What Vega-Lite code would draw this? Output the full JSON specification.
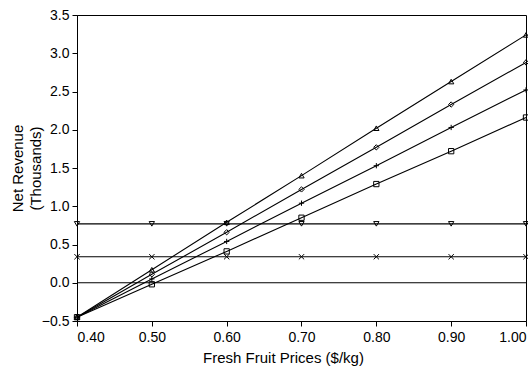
{
  "$schema": "https://vega.github.io/schema/vega-lite/v6.json",
  "width": 449,
  "height": 306,
  "autosize": {"type": "none"},
  "padding": {"left": 77, "top": 15, "right": 2, "bottom": 45},
  "background": "white",
  "config": {
    "view": {"stroke": "black", "strokeWidth": 1},
    "font": "Liberation Sans",
    "axis": {
      "grid": false,
      "domainColor": "black",
      "tickColor": "black",
      "labelColor": "black",
      "titleColor": "black",
      "labelFontSize": 14,
      "titleFontSize": 15,
      "titleFontWeight": "normal",
      "labelFont": "Liberation Sans",
      "titleFont": "Liberation Sans"
    }
  },
  "data": {
    "values": [
      {"series": "A", "price": 0.4, "rev": -0.45},
      {"series": "A", "price": 0.5, "rev": 0.17},
      {"series": "A", "price": 0.6, "rev": 0.79},
      {"series": "A", "price": 0.7, "rev": 1.40},
      {"series": "A", "price": 0.8, "rev": 2.02},
      {"series": "A", "price": 0.9, "rev": 2.63},
      {"series": "A", "price": 1.0, "rev": 3.24},
      {"series": "B", "price": 0.4, "rev": -0.45},
      {"series": "B", "price": 0.5, "rev": 0.11},
      {"series": "B", "price": 0.6, "rev": 0.66},
      {"series": "B", "price": 0.7, "rev": 1.22},
      {"series": "B", "price": 0.8, "rev": 1.77},
      {"series": "B", "price": 0.9, "rev": 2.33},
      {"series": "B", "price": 1.0, "rev": 2.88},
      {"series": "C", "price": 0.4, "rev": -0.45},
      {"series": "C", "price": 0.5, "rev": 0.05},
      {"series": "C", "price": 0.6, "rev": 0.54},
      {"series": "C", "price": 0.7, "rev": 1.04},
      {"series": "C", "price": 0.8, "rev": 1.53},
      {"series": "C", "price": 0.9, "rev": 2.03},
      {"series": "C", "price": 1.0, "rev": 2.52},
      {"series": "D", "price": 0.4, "rev": -0.45},
      {"series": "D", "price": 0.5, "rev": -0.02},
      {"series": "D", "price": 0.6, "rev": 0.41},
      {"series": "D", "price": 0.7, "rev": 0.85},
      {"series": "D", "price": 0.8, "rev": 1.29},
      {"series": "D", "price": 0.9, "rev": 1.72},
      {"series": "D", "price": 1.0, "rev": 2.16},
      {"series": "E", "price": 0.4, "rev": 0.77},
      {"series": "E", "price": 0.5, "rev": 0.77},
      {"series": "E", "price": 0.6, "rev": 0.77},
      {"series": "E", "price": 0.7, "rev": 0.77},
      {"series": "E", "price": 0.8, "rev": 0.77},
      {"series": "E", "price": 0.9, "rev": 0.77},
      {"series": "E", "price": 1.0, "rev": 0.77},
      {"series": "F", "price": 0.4, "rev": 0.34},
      {"series": "F", "price": 0.5, "rev": 0.34},
      {"series": "F", "price": 0.6, "rev": 0.34},
      {"series": "F", "price": 0.7, "rev": 0.34},
      {"series": "F", "price": 0.8, "rev": 0.34},
      {"series": "F", "price": 0.9, "rev": 0.34},
      {"series": "F", "price": 1.0, "rev": 0.34},
      {"series": "Z", "price": 0.4, "rev": 0.0},
      {"series": "Z", "price": 1.0, "rev": 0.0}
    ]
  },
  "encoding": {
    "x": {
      "field": "price",
      "type": "quantitative",
      "scale": {"domain": [0.4, 1.0], "nice": false},
      "axis": {
        "values": [0.4, 0.5, 0.6, 0.7, 0.8, 0.9, 1.0],
        "format": ".2f",
        "title": "Fresh Fruit Prices ($/kg)",
        "tickSize": 5,
        "labelPadding": 4,
        "titlePadding": 6,
        "titleX": 206
      }
    },
    "y": {
      "field": "rev",
      "type": "quantitative",
      "scale": {"domain": [-0.5, 3.5], "nice": false},
      "axis": {
        "values": [-0.5, 0, 0.5, 1.0, 1.5, 2.0, 2.5, 3.0, 3.5],
        "format": ".1f",
        "title": ["Net Revenue", "(Thousands)"],
        "titleLineHeight": 18,
        "tickSize": 5,
        "labelPadding": 3,
        "titlePadding": -2
      }
    }
  },
  "layer": [
    {
      "mark": {"type": "line", "color": "black", "strokeWidth": 1.1},
      "encoding": {"detail": {"field": "series"}}
    },
    {
      "transform": [{"filter": "datum.series !== 'Z'"}],
      "mark": {"type": "point", "filled": false, "color": "black", "strokeWidth": 1, "size": 28, "opacity": 1},
      "encoding": {
        "shape": {
          "field": "series",
          "type": "nominal",
          "scale": {
            "domain": ["A", "B", "C", "D", "E", "F"],
            "range": ["triangle-up", "diamond", "M-1,0L1,0M0,-1L0,1", "square", "triangle-down", "M-1,-1L1,1M-1,1L1,-1"]
          },
          "legend": null
        }
      }
    }
  ]
}
